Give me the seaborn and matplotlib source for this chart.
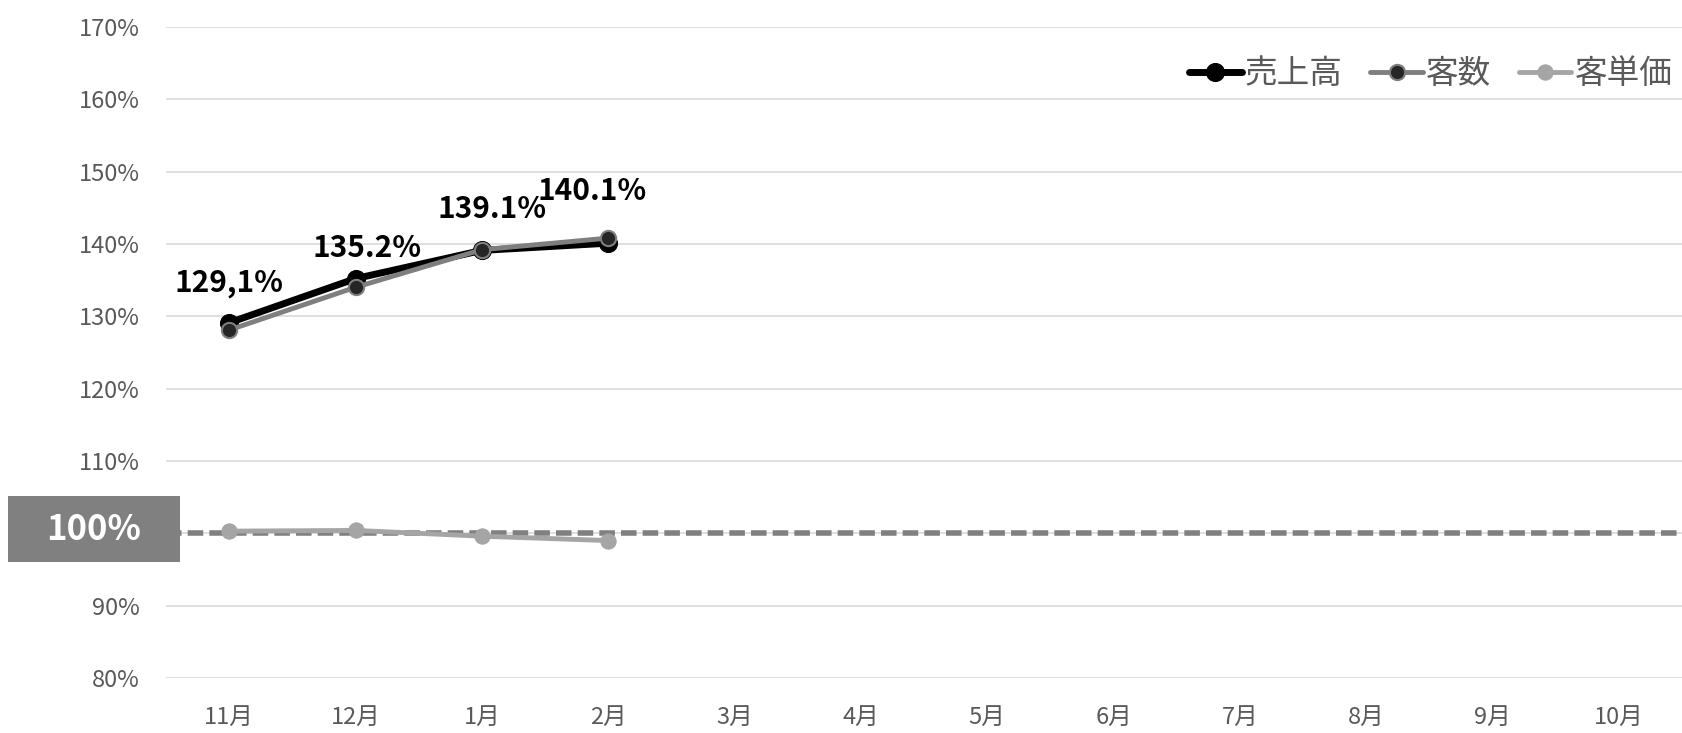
import numpy as np
import pandas as pd
import matplotlib
matplotlib.use("Agg")
import matplotlib.pyplot as plt
import matplotlib.transforms as mtransforms
from matplotlib.patches import Rectangle
import seaborn as sns

months = ["11月", "12月", "1月", "2月", "3月", "4月", "5月", "6月", "7月", "8月", "9月", "10月"]
sales = [129.1, 135.2, 139.1, 140.1]
customers = [128.1, 134.0, 139.2, 140.8]
unit_price = [100.3, 100.4, 99.6, 99.0]
sales_labels = ["129,1%", "135.2%", "139.1%", "140.1%"]
yticks = [80, 90, 100, 110, 120, 130, 140, 150, 160, 170]

sns.set_theme(style="white")
plt.rcParams['font.family'] = ['Noto Sans CJK JP', 'DejaVu Sans']

fig = plt.figure(figsize=(16.82, 7.33), dpi=100)
ax = fig.add_axes([0.0987, 0.075, 0.9013, 0.8884])

df = pd.DataFrame({
    "x": list(range(len(sales))) * 3,
    "y": sales + customers + unit_price,
    "s": ["売上高"] * len(sales) + ["客数"] * len(customers) + ["客単価"] * len(unit_price),
})

ax.axhline(100, color="#808080", lw=4, ls=(0, (2.8, 1.1)), zorder=1)

sns.lineplot(data=df[df.s == "売上高"], x="x", y="y", ax=ax, color="black", lw=5,
             marker="o", markersize=13, markerfacecolor="black", markeredgecolor="black",
             label="売上高", zorder=4)
sns.lineplot(data=df[df.s == "客数"], x="x", y="y", ax=ax, color="#7F7F7F", lw=3.5,
             marker="o", markersize=11, markerfacecolor="#262626", markeredgecolor="#7F7F7F",
             markeredgewidth=1.5, label="客数", zorder=5)
sns.lineplot(data=df[df.s == "客単価"], x="x", y="y", ax=ax, color="#A5A5A5", lw=3.5,
             marker="o", markersize=11, markerfacecolor="#A5A5A5", markeredgecolor="#A5A5A5",
             label="客単価", zorder=3)

offsets = [(0, 28.6), (8.5, 22.4), (7.7, 30), (-11.5, 37.9)]
for i, (v, lab) in enumerate(zip(sales, sales_labels)):
    ax.annotate(lab, (i, v), xytext=offsets[i], textcoords="offset points",
                ha="center", va="center", fontsize=21.5, fontweight="bold", color="black", zorder=6)

ax.set_xlim(-0.5, len(months) - 0.5)
ax.set_ylim(80, 170)
ax.set_xticks(range(len(months)))
ax.set_xticklabels(months)
ax.set_yticks(yticks)
ax.set_yticklabels(["" if t == 100 else f"{t}%" for t in yticks])
ax.tick_params(axis="both", length=0, labelsize=17, labelcolor="#595959")
ax.tick_params(axis="y", pad=19)
ax.tick_params(axis="x", pad=20)
ax.grid(axis="y", color="#D9D9D9", lw=1.2)
ax.set_axisbelow(True)
for s in ax.spines.values():
    s.set_visible(False)
ax.set_xlabel("")
ax.set_ylabel("")

trans = mtransforms.blended_transform_factory(fig.transFigure, ax.transData)
rect = Rectangle((0.0045, 96.0), 0.1026, 9.1, transform=trans, facecolor="#808080",
                 edgecolor="none", clip_on=False, zorder=7)
fig.add_artist(rect)
fig.text(0.0045 + 0.1026 / 2, 100.5, "100%", transform=trans, ha="center", va="center",
         fontsize=25, fontweight="bold", color="white", zorder=8)

leg = ax.legend(loc="upper right", bbox_to_anchor=(1.013, 0.997), ncol=3, frameon=False,
                fontsize=23.5, handlelength=1.6, handletextpad=0.1, columnspacing=0.85)
for t in leg.get_texts():
    t.set_color("#595959")

fig.savefig("out.png", dpi=100)
